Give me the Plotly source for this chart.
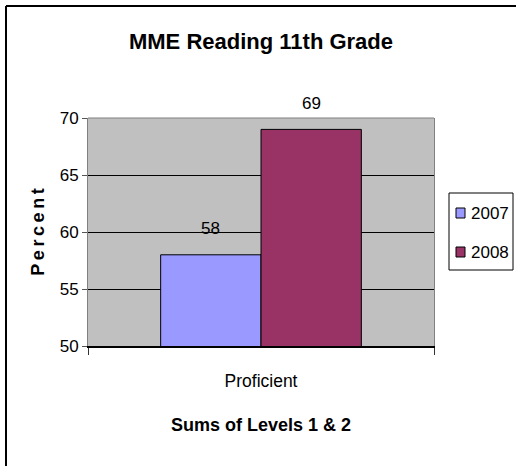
import plotly.graph_objects as go

categories = ["Proficient"]
series_names = ["2007", "2008"]
values_2007 = [58]
values_2008 = [69]
series_values = [values_2007, values_2008]
colors = ["#9999FF", "#993366"]
y_ticks = [50, 55, 60, 65, 70]

FONT = "Liberation Sans, Arial, sans-serif"

W, H = 516, 466
L, R, T, B = 88, 82, 118, 120
PW, PH = W - L - R, H - T - B


def px_x(x):
    return (x - L) / PW


def px_y(y):
    return 1 - (y - T) / PH


fig = go.Figure()
for name, vals, col in zip(series_names, series_values, colors):
    fig.add_trace(go.Bar(
        x=categories, y=vals, name=name,
        marker=dict(color=col, line=dict(color="black", width=1)),
        showlegend=False,
    ))

# data labels above each bar
bargap = 0.42
bar_w_px = PW * (1 - bargap) / len(series_names)
for i, (vals, name) in enumerate(zip(series_values, series_names)):
    offset = (i - (len(series_names) - 1) / 2) * bar_w_px
    for c, v in zip(categories, vals):
        fig.add_annotation(x=c, y=v, text=str(v), showarrow=False,
                           xshift=offset, yshift=26, yanchor="middle",
                           font=dict(family=FONT, size=17, color="black"))

shapes = []
# outer chart border (left and top visible)
shapes.append(dict(type="line", xref="paper", yref="paper",
                   x0=px_x(6), x1=px_x(6), y0=px_y(6), y1=px_y(H + 5),
                   line=dict(color="black", width=2)))
shapes.append(dict(type="line", xref="paper", yref="paper",
                   x0=px_x(6), x1=px_x(W + 5), y0=px_y(6), y1=px_y(6),
                   line=dict(color="black", width=2)))
# top border of plot area
shapes.append(dict(type="line", xref="paper", yref="paper",
                   x0=0, x1=1, y0=1, y1=1, layer="above",
                   line=dict(color="#808080", width=1)))

# legend (manual)
lx0, lx1, ly0, ly1 = 449, 513, 193, 270
shapes.append(dict(type="rect", xref="paper", yref="paper",
                   x0=px_x(lx0), x1=px_x(lx1), y0=px_y(ly1), y1=px_y(ly0),
                   line=dict(color="black", width=1), fillcolor="white"))
item_y = [213, 252]
for name, col, yy in zip(series_names, colors, item_y):
    shapes.append(dict(type="rect", xref="paper", yref="paper",
                       x0=px_x(456), x1=px_x(465), y0=px_y(yy + 5), y1=px_y(yy - 5),
                       line=dict(color="black", width=1), fillcolor=col))
    fig.add_annotation(xref="paper", yref="paper", x=px_x(469), y=px_y(yy),
                       text=name, showarrow=False, xanchor="left", yanchor="middle",
                       font=dict(family=FONT, size=17, color="black"))

fig.update_layout(
    width=W, height=H,
    margin=dict(l=L, r=R, t=T, b=B),
    paper_bgcolor="white", plot_bgcolor="#C0C0C0",
    barmode="group", bargap=bargap, bargroupgap=0,
    showlegend=False,
    shapes=shapes,
    title=dict(text="<b>MME Reading 11th Grade</b>", x=0.5, xref="paper",
               xanchor="center", y=1 - 41 / H, yref="container", yanchor="middle",
               font=dict(family=FONT, size=22, color="black")),
    font=dict(family=FONT, color="black"),
)

fig.update_yaxes(
    range=[50, 70], tickvals=y_ticks, ticktext=[str(t) for t in y_ticks],
    ticks="outside", ticklen=5, tickcolor="#555555",
    showline=True, linecolor="#808080", linewidth=1, mirror=True,
    showgrid=True, gridcolor="black", gridwidth=1, zeroline=False,
    tickfont=dict(family=FONT, size=17, color="black"),
    title=dict(text="<b>P\u2009e\u2009r\u2009c\u2009e\u2009n\u2009t</b>", standoff=10,
               font=dict(family=FONT, size=18, color="black")),
)
fig.update_xaxes(
    tickson="boundaries", ticks="outside", ticklen=7, tickcolor="#333333",
    showline=True, linecolor="black", linewidth=1.5,
    ticklabelstandoff=18,
    tickfont=dict(family=FONT, size=17.5, color="black"),
    title=dict(text="<b>Sums of Levels 1 &amp; 2</b>", standoff=29,
               font=dict(family=FONT, size=18, color="black")),
)

fig.write_html("out.html", config={"displayModeBar": False},
               post_script="document.body.style.margin='0px';")
